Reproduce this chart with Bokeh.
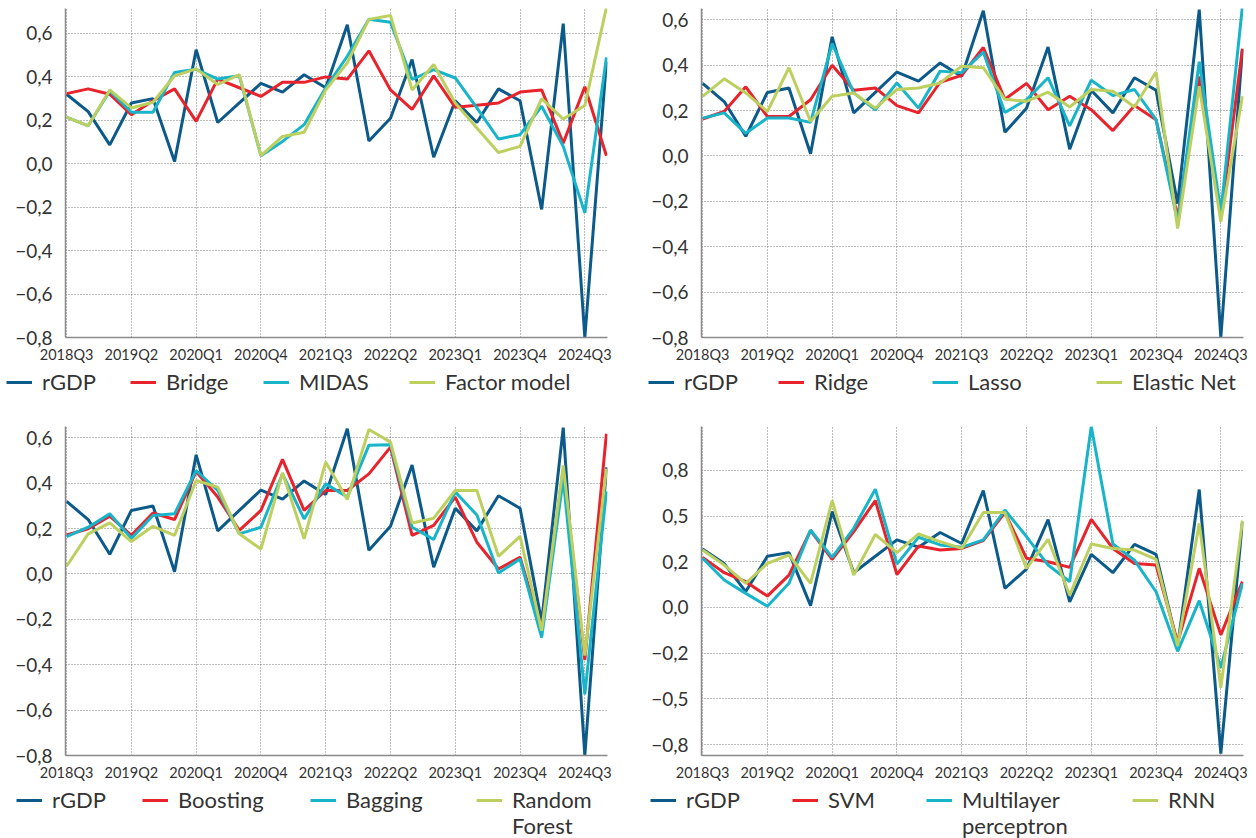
from bokeh.plotting import figure
from bokeh.models import Range1d, FixedTicker, Legend, LegendItem
from bokeh.layouts import column, row
from bokeh.embed import file_html
from bokeh.resources import INLINE

quarters = ["2018Q3", "2018Q4",
            "2019Q1", "2019Q2", "2019Q3", "2019Q4",
            "2020Q1", "2020Q2", "2020Q3", "2020Q4",
            "2021Q1", "2021Q2", "2021Q3", "2021Q4",
            "2022Q1", "2022Q2", "2022Q3", "2022Q4",
            "2023Q1", "2023Q2", "2023Q3", "2023Q4",
            "2024Q1", "2024Q2", "2024Q3", "2024Q4"]
tick_labels = ["2018Q3", "2019Q2", "2020Q1", "2020Q4", "2021Q3",
               "2022Q2", "2023Q1", "2023Q4", "2024Q3"]

rgdp = [0.32, 0.24, 0.087, 0.28, 0.30, 0.01, 0.525, 0.19, 0.28, 0.37, 0.33, 0.41, 0.35,
        0.64, 0.105, 0.21, 0.48, 0.03, 0.29, 0.19, 0.345, 0.29, -0.21, 0.645, -0.8, 0.47]

bridge = [0.323, 0.345, 0.32, 0.226, 0.29, 0.345, 0.195, 0.39, 0.35, 0.31, 0.375, 0.375, 0.40,
          0.39, 0.52, 0.34, 0.25, 0.405, 0.26, 0.27, 0.28, 0.33, 0.34, 0.095, 0.355, 0.037]
midas = [0.215, 0.175, 0.335, 0.237, 0.237, 0.42, 0.435, 0.39, 0.405, 0.037, 0.103, 0.18, 0.35,
         0.495, 0.665, 0.652, 0.388, 0.434, 0.395, 0.257, 0.114, 0.134, 0.265, 0.08, -0.226, 0.49]
factor = [0.215, 0.175, 0.34, 0.257, 0.283, 0.405, 0.437, 0.365, 0.41, 0.037, 0.126, 0.145, 0.34,
          0.465, 0.665, 0.683, 0.34, 0.457, 0.28, 0.165, 0.052, 0.08, 0.30, 0.206, 0.268, 0.72]

ridge = [0.163, 0.196, 0.305, 0.174, 0.174, 0.248, 0.40, 0.29, 0.30, 0.222, 0.19, 0.325, 0.355,
         0.478, 0.25, 0.32, 0.204, 0.263, 0.204, 0.112, 0.222, 0.16, -0.27, 0.35, -0.27, 0.473]
lasso = [0.167, 0.19, 0.10, 0.167, 0.167, 0.148, 0.495, 0.278, 0.204, 0.322, 0.211, 0.374, 0.367,
         0.458, 0.192, 0.248, 0.345, 0.133, 0.334, 0.266, 0.293, 0.16, -0.29, 0.415, -0.25, 0.66]
elastic = [0.263, 0.34, 0.278, 0.196, 0.389, 0.152, 0.263, 0.278, 0.211, 0.293, 0.30, 0.322, 0.396,
           0.389, 0.25, 0.241, 0.281, 0.216, 0.293, 0.285, 0.216, 0.37, -0.32, 0.307, -0.29, 0.263]

boosting = [0.172, 0.199, 0.255, 0.17, 0.269, 0.24, 0.452, 0.339, 0.192, 0.28, 0.505, 0.28, 0.368,
            0.368, 0.441, 0.559, 0.17, 0.214, 0.339, 0.14, 0.022, 0.074, -0.25, 0.46, -0.38, 0.618]
bagging = [0.165, 0.206, 0.265, 0.157, 0.258, 0.265, 0.456, 0.368, 0.177, 0.206, 0.441, 0.243, 0.397,
           0.339, 0.567, 0.57, 0.206, 0.152, 0.361, 0.26, 0.004, 0.066, -0.28, 0.42, -0.53, 0.364]
rforest = [0.034, 0.177, 0.225, 0.143, 0.21, 0.17, 0.412, 0.383, 0.177, 0.11, 0.446, 0.155, 0.493,
           0.328, 0.637, 0.581, 0.225, 0.246, 0.368, 0.368, 0.078, 0.166, -0.25, 0.478, -0.36, 0.464]

svm = [0.274, 0.19, 0.141, 0.062, 0.177, 0.42, 0.263, 0.415, 0.585, 0.18, 0.336, 0.314, 0.323,
       0.366, 0.519, 0.269, 0.25, 0.219, 0.482, 0.323, 0.241, 0.232, -0.19, 0.214, -0.15, 0.141]
mlp = [0.269, 0.15, 0.077, 0.007, 0.132, 0.424, 0.274, 0.433, 0.647, 0.237, 0.384, 0.342, 0.329,
       0.37, 0.533, 0.388, 0.232, 0.141, 0.99, 0.347, 0.259, 0.086, -0.24, 0.037, -0.33, 0.132]
rnn = [0.314, 0.232, 0.132, 0.241, 0.287, 0.132, 0.585, 0.177, 0.399, 0.30, 0.402, 0.36, 0.323,
       0.519, 0.519, 0.214, 0.373, 0.067, 0.347, 0.323, 0.314, 0.263, -0.21, 0.46, -0.44, 0.475]

yticks_a = [-0.8, -0.6, -0.4, -0.2, 0.0, 0.2, 0.4, 0.6]
ylabels_a = ["−0,8", "−0,6", "−0,4", "−0,2", "0,0", "0,2", "0,4", "0,6"]
yticks_b = [-0.75, -0.5, -0.25, 0.0, 0.25, 0.5, 0.75]
ylabels_b = ["−0,8", "−0,5", "−0,2", "0,0", "0,2", "0,5", "0,8"]

COLORS = ["#0b5a8a", "#e8232b", "#18b4c9", "#bdd05f"]
FONT = "Lato"
TXT = "#333333"
X = list(range(len(quarters)))


def chart(series, y_range, yticks, ylabels, left, right, top):
    p = figure(output_backend="svg", toolbar_location=None,
               frame_width=542, frame_height=329,
               min_border_left=left, min_border_right=right,
               min_border_top=top, min_border_bottom=26,
               x_range=Range1d(-0.05, len(quarters) - 1 + 0.05),
               y_range=Range1d(*y_range))
    p.outline_line_color = None
    for vals, c in zip(series, COLORS):
        p.line(X, vals, line_color=c, line_width=3)

    xt = [quarters.index(t) for t in tick_labels]
    p.xaxis.ticker = FixedTicker(ticks=xt)
    p.xaxis.major_label_overrides = {i: t for i, t in zip(xt, tick_labels)}
    p.yaxis.ticker = FixedTicker(ticks=yticks)
    p.yaxis.major_label_overrides = {v: t for v, t in zip(yticks, ylabels)}
    for ax in (p.xaxis[0], p.yaxis[0]):
        ax.axis_line_color = "#8a8a8a"
        ax.axis_line_width = 1.5
        ax.major_tick_line_color = None
        ax.minor_tick_line_color = None
        ax.major_label_text_font = FONT
        ax.major_label_text_color = TXT
    p.xaxis.major_label_text_font_size = "14.5px"
    p.xaxis.major_label_standoff = 2
    p.yaxis.major_label_text_font_size = "19px"
    p.yaxis.major_label_standoff = 7
    for g in (p.xgrid[0], p.ygrid[0]):
        g.grid_line_color = "#7a7a7a"
        g.grid_line_dash = "1 2"
        g.grid_line_width = 1
    return p


def legend_fig(width, height, names, series, xs, y, line_gap):
    # the series lines sit outside this strip's view; only their legend samples show
    lf = figure(width=width, height=height, output_backend="svg", toolbar_location=None,
                x_axis_type=None, y_axis_type=None, min_border=0,
                x_range=Range1d(0, 1), y_range=Range1d(100, 101))
    lf.outline_line_color = None
    for name, vals, c, lx in zip(names, series, COLORS, xs):
        lines = name.split("\n")
        for k, txt in enumerate(lines):
            r = lf.line(X, vals, line_color=c, line_width=3,
                        line_alpha=1.0 if k == 0 else 0.0)
            lg = Legend(items=[LegendItem(label=txt, renderers=[r])],
                        location=(lx, y - k * line_gap),
                        glyph_width=26, glyph_height=20, label_standoff=10,
                        label_text_font=FONT, label_text_font_size="22px",
                        label_text_color=TXT, label_height=20,
                        border_line_alpha=0, background_fill_alpha=0,
                        padding=0, margin=0)
            lf.add_layout(lg, "center")
    return lf


s1 = [rgdp, bridge, midas, factor]
s2 = [rgdp, ridge, lasso, elastic]
s3 = [rgdp, boosting, bagging, rforest]
s4 = [rgdp, svm, mlp, rnn]

p1 = chart(s1, (-0.8, 0.715), yticks_a, ylabels_a, 65, 25, 8)
p2 = chart(s2, (-0.8, 0.65), yticks_a, ylabels_a, 69, 5, 8)
p3 = chart(s3, (-0.8, 0.65), yticks_a, ylabels_a, 65, 25, 0)
p4 = chart(s4, (-0.81, 0.99), yticks_b, ylabels_b, 69, 5, 0)

l1 = legend_fig(632, 61, ["rGDP", "Bridge", "MIDAS", "Factor model"], s1,
                [6, 130, 263, 409], 31, 26)
l2 = legend_fig(616, 61, ["rGDP", "Ridge", "Lasso", "Elastic Net"], s2,
                [16, 146, 300, 464], 31, 26)
l3 = legend_fig(632, 59, ["rGDP", "Boosting", "Bagging", "Random\nForest"], s3,
                [16, 142, 310, 476], 29, 26)
l4 = legend_fig(616, 59, ["rGDP", "SVM", "Multilayer\nperceptron", "RNN"], s4,
                [18, 160, 294, 500], 29, 26)

layout = column(row(p1, p2), row(l1, l2), row(p3, p4), row(l3, l4))
open("out.html", "w").write(file_html(layout, INLINE))
